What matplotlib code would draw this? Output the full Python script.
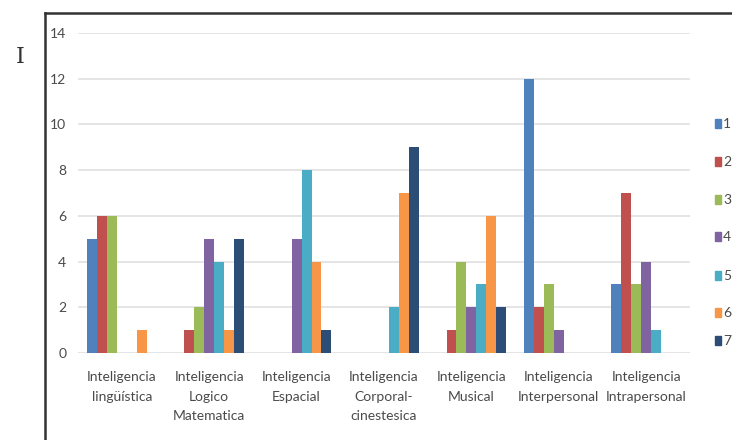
import numpy as np
import matplotlib.pyplot as plt
from matplotlib.lines import Line2D

# ---- data ----
categories = [
    "Inteligencia\nlingüística",
    "Inteligencia\nLogico\nMatematica",
    "Inteligencia\nEspacial",
    "Inteligencia\nCorporal-\ncinestesica",
    "Inteligencia\nMusical",
    "Inteligencia\nInterpersonal",
    "Inteligencia\nIntrapersonal",
]
series_names = ["1", "2", "3", "4", "5", "6", "7"]
s1 = [5, 0, 0, 0, 0, 12, 3]
s2 = [6, 1, 0, 0, 1, 2, 7]
s3 = [6, 2, 0, 0, 4, 3, 3]
s4 = [0, 5, 5, 0, 2, 1, 4]
s5 = [0, 4, 8, 2, 3, 0, 1]
s6 = [1, 1, 4, 7, 6, 0, 0]
s7 = [0, 5, 1, 9, 2, 0, 0]
series = [s1, s2, s3, s4, s5, s6, s7]
colors = ["#4F81BD", "#C0504D", "#9BBB59", "#8064A2", "#4BACC6", "#F79646", "#2C4D75"]

plt.rcParams['font.family'] = ['Lato', 'DejaVu Sans']
txt_color = "#4A4A4A"

fig = plt.figure(figsize=(7.32, 4.40), dpi=100)
ax = fig.add_axes([78 / 732, 1 - 353 / 440, 612 / 732, 320 / 440])

x = np.arange(len(categories))
bw = 0.114
for i, (vals, c) in enumerate(zip(series, colors)):
    ax.bar(x + (i - 3) * bw, vals, width=bw, color=c, label=series_names[i], zorder=3)

ax.set_xlim(-0.5, len(categories) - 0.5)
ax.set_ylim(0, 14)
ax.set_yticks(range(0, 15, 2))
ax.yaxis.grid(True, color="#E0E0E0", lw=1.2, zorder=0)
for s in ax.spines.values():
    s.set_visible(False)
ax.tick_params(axis="both", length=0, colors=txt_color, labelsize=10)
ax.tick_params(axis="y", pad=8.5)
ax.tick_params(axis="x", pad=13)
ax.set_xticks(x)
ax.set_xticklabels(categories, linespacing=1.75, va="top")

# legend (cut off at the right edge, as in the screenshot)
leg_y = [124, 162, 200, 237, 276, 313, 341]
for name, c, yy in zip(series_names, colors, leg_y):
    fy = 1 - yy / 440
    fig.patches.append(plt.Rectangle((715 / 732, fy - 4 / 440), 6 / 732, 9 / 440,
                                     transform=fig.transFigure, color=c))
    fig.text(723 / 732, fy, name, color=txt_color, fontsize=10, va="center")

# screenshot frame and cursor
fig.add_artist(Line2D([45 / 732, 1], [1 - 13 / 440, 1 - 13 / 440],
                      transform=fig.transFigure, color="#333333", lw=1.8))
fig.add_artist(Line2D([45 / 732, 45 / 732], [1 - 13 / 440, 0],
                      transform=fig.transFigure, color="#333333", lw=1.8))
fig.text(20 / 732, 1 - 57 / 440, "I", family="DejaVu Serif", fontsize=16,
         color="#333333", ha="center", va="center")

fig.savefig("out.png", dpi=100)
